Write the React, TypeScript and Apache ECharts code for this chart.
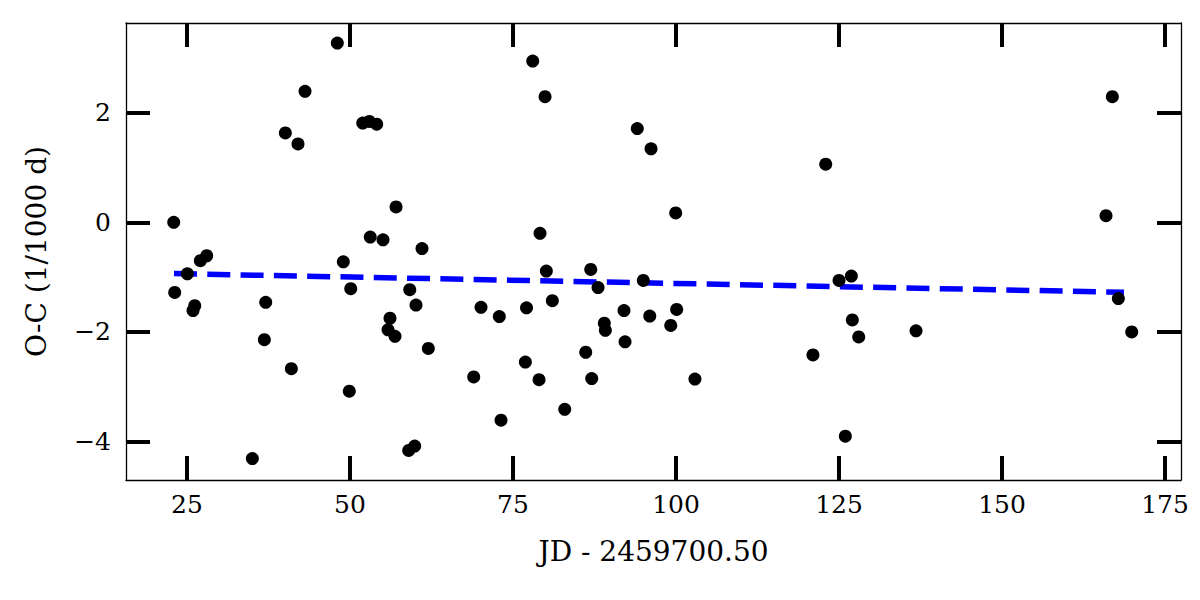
import React, { useEffect, useRef } from "react";
import * as echarts from "echarts";

// O-C data: JD - 2459700.50 and O-C in 1/1000 d
const jd = [
  22.96, 23.11, 25.05, 26.18, 25.92, 27.04, 28.02, 35.02, 36.86, 37.07,
  40.08, 41.0, 42.02, 43.1, 48.05, 48.97, 49.89, 50.11, 51.95, 52.96,
  53.1, 54.09, 55.06, 56.13, 55.83, 56.9, 57.06, 59.0, 59.92, 59.16,
  60.12, 61.04, 62.01, 68.97, 70.09, 72.9, 73.16, 76.89, 77.07, 78.02,
  78.99, 79.14, 79.91, 80.11, 81.03, 82.93, 86.15, 86.92, 87.07, 88.04,
  89.0, 89.16, 92.02, 92.18, 94.06, 94.98, 96.17, 95.97, 99.19, 99.95,
  100.1, 102.9, 121.0, 122.96, 125.0, 125.97, 126.89, 127.04, 128.02, 136.81,
  165.95, 166.92, 167.84, 169.89,
];
const oc = [
  0.0, -1.28, -0.94, -1.52, -1.61, -0.7, -0.61, -4.31, -2.14, -1.46,
  1.63, -2.67, 1.43, 2.39, 3.27, -0.72, -3.08, -1.21, 1.81, 1.84,
  -0.27, 1.79, -0.32, -1.75, -1.96, -2.08, 0.28, -4.16, -4.08, -1.23,
  -1.51, -0.48, -2.3, -2.82, -1.55, -1.72, -3.61, -2.55, -1.56, 2.94,
  -2.87, -0.2, 2.29, -0.89, -1.43, -3.41, -2.37, -0.86, -2.85, -1.19,
  -1.84, -1.97, -1.61, -2.18, 1.71, -1.06, 1.34, -1.71, -1.88, 0.17,
  -1.59, -2.86, -2.42, 1.06, -1.06, -3.9, -0.98, -1.78, -2.09, -1.98,
  0.12, 2.29, -1.39, -2.0,
];
// linear fit line
const fitJD = [23.0, 168.7];
const fitOC = [-0.935, -1.276];

const xTicks = [25, 50, 75, 100, 125, 150, 175];
const yTicks = [-4, -2, 0, 2];
const xRange = [15.64, 177.45];
const yRange = [-4.7, 3.635];

const xName = "JD - 2459700.50";
const yName = "O-C (1/1000 d)";

export default function App() {
  const ref = useRef<HTMLDivElement>(null);
  useEffect(() => {
    if (!ref.current) return;
    const chart = echarts.init(ref.current, null, { renderer: "svg" });
    const font = "DejaVu Serif";
    const fmt = (v: number) => (v < 0 ? "\u2212" + Math.abs(v) : String(v));
    const axisLine = { show: true, onZero: false, lineStyle: { color: "#000", width: 1.3 } };
    const tick = (vals: number[]) => ({
      show: true,
      inside: true,
      length: 24,
      customValues: vals,
      lineStyle: { color: "#000", width: 4 },
    });
    const xBase = {
      type: "value",
      min: xRange[0],
      max: xRange[1],
      splitLine: { show: false },
      axisLine,
    };
    const yBase = {
      type: "value",
      min: yRange[0],
      max: yRange[1],
      splitLine: { show: false },
      axisLine,
    };
    chart.setOption({
      animation: false,
      backgroundColor: "#fff",
      grid: { left: 126, right: 19, top: 23, bottom: 120 },
      xAxis: [
        {
          ...xBase,
          position: "bottom",
          axisTick: tick(xTicks),
          axisLabel: {
            customValues: xTicks,
            formatter: fmt,
            fontFamily: font,
            fontSize: 25,
            color: "#000",
            margin: 12,
          },
          name: xName,
          nameLocation: "middle",
          nameGap: 57,
          nameTextStyle: { fontFamily: font, fontSize: 28, color: "#000" },
        },
        {
          ...xBase,
          position: "top",
          axisTick: tick(xTicks),
          axisLabel: { show: false },
        },
      ],
      yAxis: [
        {
          ...yBase,
          position: "left",
          axisTick: tick(yTicks),
          axisLabel: {
            customValues: yTicks,
            formatter: fmt,
            fontFamily: font,
            fontSize: 25,
            color: "#000",
            margin: 15,
          },
          name: yName,
          nameLocation: "middle",
          nameGap: 76,
          nameRotate: 90,
          nameTextStyle: { fontFamily: font, fontSize: 28, color: "#000" },
        },
        {
          ...yBase,
          position: "right",
          axisTick: tick(yTicks),
          axisLabel: { show: false },
        },
      ],
      series: [
        {
          type: "line",
          xAxisIndex: 0,
          yAxisIndex: 0,
          data: fitJD.map((x, i) => [x, fitOC[i]]),
          showSymbol: false,
          symbol: "none",
          lineStyle: { color: "#0000ff", width: 5.5, type: [23, 10.3] },
          z: 2,
        },
        {
          type: "scatter",
          xAxisIndex: 0,
          yAxisIndex: 0,
          data: jd.map((x, i) => [x, oc[i]]),
          symbol: "circle",
          symbolSize: 13,
          itemStyle: { color: "#000", opacity: 1 },
          z: 3,
        },
      ],
    });
    return () => chart.dispose();
  }, []);
  return (
    <div
      ref={ref}
      style={{ position: "absolute", left: 0, top: 0, width: 1200, height: 600 }}
    />
  );
}
